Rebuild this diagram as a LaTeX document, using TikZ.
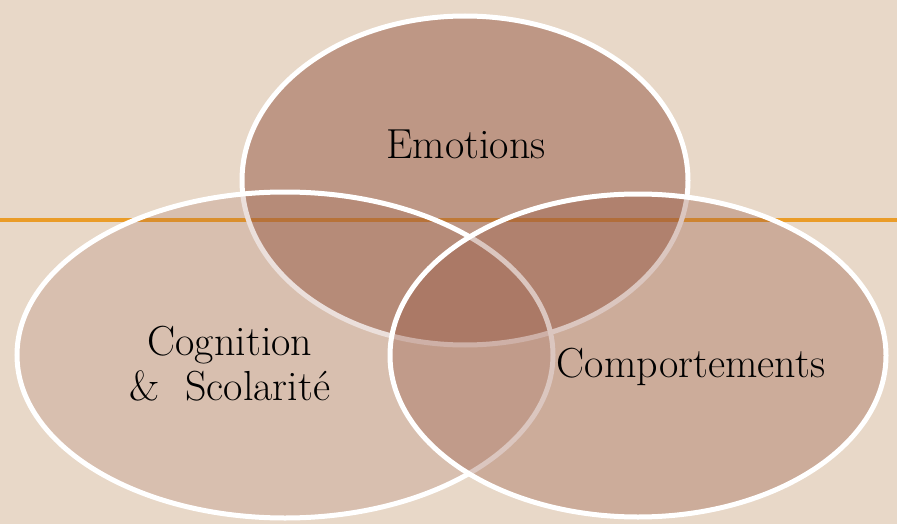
\documentclass[tikz,border=0pt]{standalone}
\usetikzlibrary{shapes.geometric}
\definecolor{backdrop}{RGB}{232,216,200}
\definecolor{rule}{RGB}{234,156,40}
\definecolor{bubble}{RGB}{150,88,68}
\begin{document}
\begin{tikzpicture}[
                x=1pt, y=-1pt,
                bubble/.style={ellipse, draw=white, line width=5pt, fill=bubble, inner sep=0pt},
                label/.style={font=\fontsize{42}{45}\selectfont, inner sep=0pt, anchor=base, align=center},
            ]
            \fill[backdrop] (0,0) rectangle (897,524);
            \useasboundingbox (0,0) rectangle (897,524);
            \coordinate (ruleL) at (0,220);
            \coordinate (ruleR) at (897,220);
            \draw[rule, line width=3.5pt] (ruleL) -- (ruleR);
            % three overlapping areas
            \node[bubble, fill opacity=0.5, minimum width=446pt, minimum height=329pt] (emo) at (465,180.5) {};
            \node[bubble, fill opacity=0.19, minimum width=536pt, minimum height=326pt] (cog) at (285,355) {};
            \node[bubble, fill opacity=0.34, minimum width=496pt, minimum height=323pt] (comp) at (638,355.5) {};
            \node[label] (emoText) at (466,159) {Emotions};
            \node[label] (cogText) at (230,400) {Cognition\\\&~~Scolarit\'e};
            \node[label] (compText) at (691,377) {Comportements};
            \end{tikzpicture}
\end{document}
